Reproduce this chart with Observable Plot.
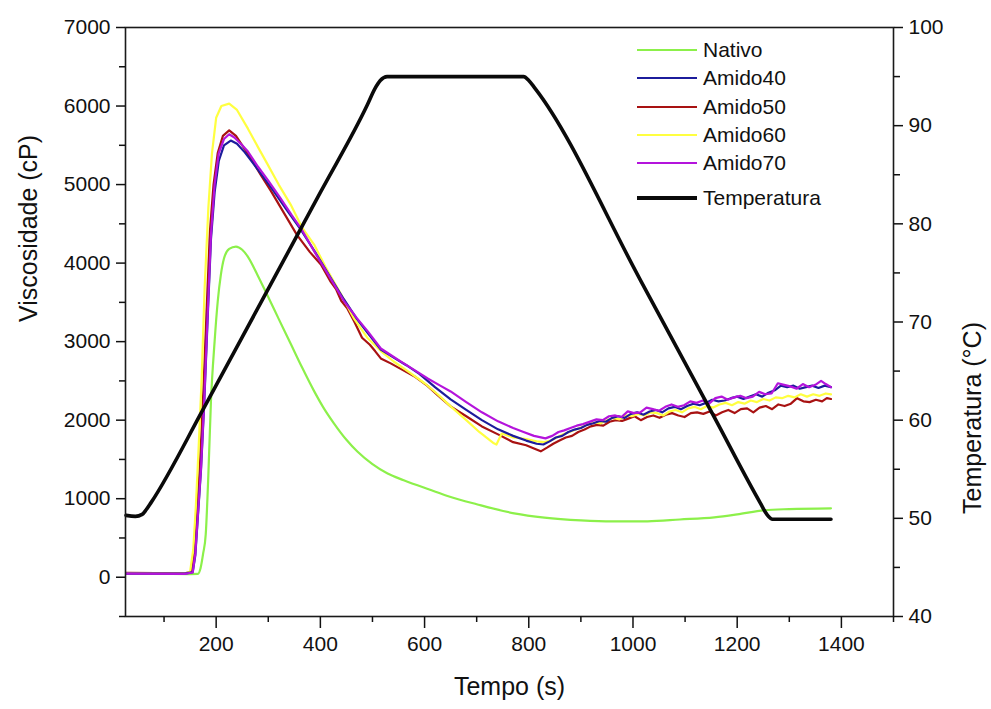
<!DOCTYPE html>
<html><head><meta charset="utf-8">
<script src="https://cdn.jsdelivr.net/npm/d3@7"></script>
<script src="https://cdn.jsdelivr.net/npm/@observablehq/plot@0.6"></script>
<style>
body{margin:0;background:#fff;font-family:"Liberation Sans",Arial,sans-serif}
#wrap{position:relative;width:991px;height:709px}
#legend{position:absolute;left:637px;top:36px;font-size:21px;color:#111}
#legend .row{display:flex;align-items:center;height:28.3px}
#legend svg{width:62px;height:10px;margin-right:4px}
</style>
</head><body><div id="wrap"><div id="chart"></div><div id="legend"></div></div>
<script>
// ---------- data ----------
const seriesNames = ["Nativo","Amido40","Amido50","Amido60","Amido70"];
const seriesColors = ["#8cf04a","#1c1c9c","#a81212","#ffff40","#b414dc"];
const tempName = "Temperatura";
const tempColor = "#0a0a0a";

const nativoT = [27,100,150,165,170,175,180,185,190,197,203,209,215,225,238,250,261,280,299,320,344,365,388,405,426,450,471,500,529,560,612,644,700,772,830,900,960,1028,1090,1156,1200,1252,1300,1380];
const nativoV = [45,42,40,42,115,300,547,1300,2240,3000,3511,3850,4058,4180,4211,4170,4080,3840,3580,3290,2960,2670,2370,2170,1960,1750,1600,1440,1320,1235,1110,1035,930,814,760,725,712,712,735,763,800,852,868,878];

const amido40T = [27,140,155,160,165,171,177,184,190,197,205,215,228,240,255,270,290,310,335,360,390,420,445,470,491,516,540,565,590,620,650,680,710,741,770,795,815,828,840,852,864,876,888,900,912,924,936,948,960,972,984,996,1008,1020,1032,1044,1056,1068,1080,1092,1104,1116,1128,1140,1152,1164,1176,1188,1200,1212,1224,1236,1248,1260,1272,1284,1296,1308,1320,1332,1344,1356,1368,1380];
const amido40V = [45,45,65,280,780,1380,2200,3350,4300,4900,5300,5500,5560,5520,5410,5280,5100,4920,4680,4450,4140,3810,3540,3290,3110,2900,2800,2700,2590,2420,2265,2130,2000,1883,1800,1740,1700,1690,1730,1780,1800,1850,1880,1900,1940,1960,1990,1980,2030,2050,2030,2080,2100,2070,2110,2130,2100,2150,2170,2140,2180,2210,2190,2220,2260,2240,2250,2280,2300,2270,2300,2330,2300,2350,2380,2440,2420,2440,2400,2420,2440,2410,2440,2420];

const amido50T = [27,140,152,158,163,169,175,182,188,195,203,213,225,238,252,268,285,305,330,355,380,401,420,430,440,452,465,480,495,505,516,535,555,580,605,630,650,680,710,741,770,795,810,823,835,847,859,871,883,895,907,919,931,943,955,967,979,991,1003,1015,1027,1039,1051,1063,1075,1087,1099,1111,1123,1135,1147,1159,1171,1183,1195,1207,1219,1231,1243,1255,1267,1279,1291,1303,1315,1327,1339,1351,1363,1372,1380];
const amido50V = [55,50,70,300,800,1450,2300,3450,4400,5000,5400,5620,5690,5620,5480,5320,5130,4920,4640,4360,4140,3982,3760,3670,3520,3420,3257,3050,2960,2880,2786,2723,2650,2560,2440,2290,2175,2050,1920,1819,1720,1680,1640,1603,1650,1700,1740,1780,1800,1850,1880,1921,1940,1930,1980,2000,1990,2020,2050,2000,2040,2060,2030,2070,2090,2060,2040,2090,2100,2080,2110,2060,2100,2130,2090,2140,2150,2100,2160,2180,2140,2200,2180,2210,2280,2240,2230,2260,2240,2280,2270];

const amido60T = [27,140,150,156,161,166,172,178,185,192,200,210,225,240,261,280,299,320,343,365,388,410,440,465,490,516,540,573,600,625,650,680,705,733,738,748,770,795,815,830,842,854,866,878,890,902,914,926,938,950,962,974,986,998,1010,1022,1034,1046,1058,1070,1082,1094,1106,1118,1130,1142,1154,1166,1178,1190,1202,1214,1226,1238,1250,1262,1274,1286,1298,1310,1322,1334,1346,1358,1370,1380];
const amido60V = [50,45,70,350,900,1600,2500,3700,4700,5400,5850,6000,6030,5950,5712,5480,5254,5000,4745,4450,4236,3950,3600,3290,3050,2880,2750,2600,2470,2330,2175,2000,1850,1705,1690,1830,1780,1760,1730,1720,1740,1780,1820,1850,1880,1910,1950,1970,1960,2000,2030,2010,2060,2050,2080,2060,2100,2090,2060,2110,2130,2100,2150,2170,2140,2180,2160,2200,2220,2190,2230,2210,2250,2230,2270,2250,2290,2280,2310,2290,2330,2300,2330,2310,2340,2328];

const amido70T = [27,140,155,160,165,171,177,184,190,197,205,215,225,235,250,261,280,300,324,345,363,390,420,445,470,491,516,535,554,580,606,630,650,680,710,741,770,790,810,832,845,857,868,880,892,904,919,930,942,954,966,978,990,1002,1014,1026,1038,1050,1062,1074,1086,1098,1110,1122,1134,1146,1158,1170,1182,1194,1206,1218,1230,1242,1254,1266,1278,1290,1302,1314,1326,1338,1350,1361,1370,1380];
const amido70V = [45,42,60,300,800,1400,2240,3400,4360,5000,5400,5580,5640,5600,5500,5420,5230,5050,4820,4610,4440,4130,3800,3520,3300,3130,2913,2830,2748,2640,2530,2440,2366,2230,2100,1985,1900,1850,1800,1768,1800,1850,1870,1900,1930,1950,1985,2010,2000,2050,2060,2040,2112,2090,2100,2160,2140,2120,2170,2200,2170,2190,2240,2220,2250,2210,2280,2300,2260,2290,2310,2280,2300,2360,2330,2340,2470,2450,2430,2400,2460,2420,2450,2500,2460,2420];

const tempT = [27,45,58,66,75,176,286,400,490,505,515,528,790,800,812,1015,1156,1245,1257,1268,1380];
const tempC = [50.3,50.2,50.4,50.9,51.6,61.2,72.0,83.2,92.1,93.8,94.6,95.0,95.0,94.6,93.8,74.2,60.3,51.5,50.4,49.9,49.9];

const xTicks = [200,400,600,800,1000,1200,1400];
const xMinorTicks = [100,300,500,700,900,1100,1300,1500];
const yTicks = [0,1000,2000,3000,4000,5000,6000,7000];
const yMinorTicks = [-500,500,1500,2500,3500,4500,5500,6500];
const tempTicks = [40,50,60,70,80,90,100];
const tempMinorTicks = [45,55,65,75,85,95];
const xLabel = "Tempo (s)";
const yLabel = "Viscosidade (cP)";
const y2Label = "Temperatura (°C)";

// ---------- build ----------
const vDomain = [-500, 7000];
const tDomain = [40, 100];
// map temperature onto the viscosity scale (shared plot frame)
const toV = T => vDomain[0] + (T - tDomain[0]) * (vDomain[1] - vDomain[0]) / (tDomain[1] - tDomain[0]);
const fromV = v => tDomain[0] + (v - vDomain[0]) * (tDomain[1] - tDomain[0]) / (vDomain[1] - vDomain[0]);

const seriesData = [
  [nativoT, nativoV], [amido40T, amido40V], [amido50T, amido50V], [amido60T, amido60V], [amido70T, amido70V]
];
const rows = [];
seriesNames.forEach((name, i) => {
  const [ts, vs] = seriesData[i];
  ts.forEach((t, j) => rows.push({series: name, t, v: vs[j]}));
});
const tempRows = tempT.map((t, j) => ({t, v: toV(tempC[j])}));
const byName = n => rows.filter(d => d.series === n);
const drawOrder = ["Nativo","Amido50","Amido60","Amido40","Amido70"];
const plain = d => String(d);

const font = '"Liberation Sans", Arial, sans-serif';
const chart = Plot.plot({
  width: 991, height: 709,
  marginLeft: 125, marginRight: 98, marginTop: 27, marginBottom: 93,
  style: {fontFamily: font, fontSize: "21px", color: "#111", background: "#fff", overflow: "visible"},
  x: {domain: [26, 1500]},
  y: {domain: vDomain},
  color: {domain: seriesNames, range: seriesColors},
  marks: [
    ...drawOrder.map(n => Plot.line(byName(n), {
      x: "t", y: "v", stroke: "series", strokeWidth: 2.2,
      curve: n === "Nativo" ? "monotone-x" : "linear"
    })),
    Plot.line(tempRows, {x: "t", y: "v", stroke: tempColor, strokeWidth: 3.6, curve: "monotone-x"}),
    Plot.frame({stroke: "#1a1a1a", strokeWidth: 1.6}),
    Plot.axisX({ticks: xTicks, tickFormat: plain, tickSize: 12, tickPadding: 8, label: null, fontSize: 21, strokeWidth: 1.5}),
    Plot.axisX({ticks: xMinorTicks, tickSize: 6, tickFormat: () => "", label: null, strokeWidth: 1.5}),
    Plot.axisY({ticks: yTicks, tickFormat: plain, tickSize: 9, tickPadding: 6, label: null, fontSize: 21, strokeWidth: 1.5}),
    Plot.axisY({ticks: yMinorTicks, tickSize: 6, tickFormat: () => "", label: null, strokeWidth: 1.5}),
    Plot.axisY({anchor: "right", ticks: tempTicks.map(toV), tickFormat: v => String(Math.round(fromV(v))), tickSize: 9, tickPadding: 6, label: null, fontSize: 21, strokeWidth: 1.5}),
    Plot.axisY({anchor: "right", ticks: tempMinorTicks.map(toV), tickSize: 6, tickFormat: () => "", label: null, strokeWidth: 1.5}),
    Plot.text([xLabel], {frameAnchor: "bottom", dy: 78, text: d => d, fontSize: 25, fill: "#111"}),
    Plot.text([yLabel], {frameAnchor: "left", dx: -97, rotate: -90, text: d => d, fontSize: 25, fill: "#111"}),
    Plot.text([y2Label], {frameAnchor: "right", dx: 79, rotate: -90, text: d => d, fontSize: 25, fill: "#111"})
  ]
});
document.getElementById("chart").appendChild(chart);

// legend
const legend = document.getElementById("legend");
const legendItems = seriesNames.map((n, i) => ({name: n, color: seriesColors[i], w: 2.2}))
  .concat([{name: tempName, color: tempColor, w: 4}]);
legendItems.forEach((it, i) => {
  const row = document.createElement("div");
  row.className = "row";
  if (i === legendItems.length - 1) row.style.marginTop = "6px";
  row.innerHTML = `<svg viewBox="0 0 62 10"><line x1="0" x2="60" y1="5" y2="5" stroke="${it.color}" stroke-width="${it.w}"/></svg><span>${it.name}</span>`;
  legend.appendChild(row);
});
</script>
</body></html>
